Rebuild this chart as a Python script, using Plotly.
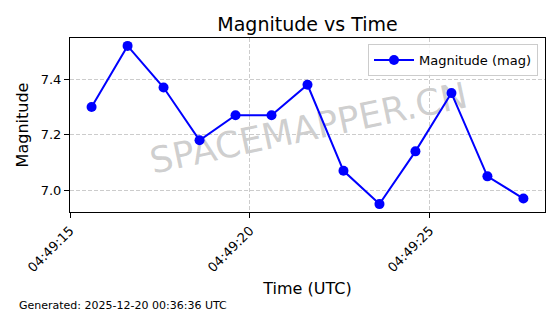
import plotly.graph_objects as go
import pandas as pd

times = ["2025-12-20 04:49:15.6", "2025-12-20 04:49:16.6", "2025-12-20 04:49:17.6",
         "2025-12-20 04:49:18.6", "2025-12-20 04:49:19.6", "2025-12-20 04:49:20.6",
         "2025-12-20 04:49:21.6", "2025-12-20 04:49:22.6", "2025-12-20 04:49:23.6",
         "2025-12-20 04:49:24.6", "2025-12-20 04:49:25.6", "2025-12-20 04:49:26.6",
         "2025-12-20 04:49:27.6"]
magnitudes = [7.30, 7.52, 7.37, 7.18, 7.27, 7.27, 7.38, 7.07, 6.95, 7.14, 7.35, 7.05, 6.97]
x_ticks = ["2025-12-20 04:49:15", "2025-12-20 04:49:20", "2025-12-20 04:49:25"]
x_tick_labels = ["04:49:15", "04:49:20", "04:49:25"]
y_ticks = [7.0, 7.2, 7.4]

W, H = 560, 314
L, R, T, B = 70, 15, 38, 102
pw, ph = W - L - R, H - T - B

font = "DejaVu Sans, sans-serif"
fig = go.Figure()
fig.add_trace(go.Scatter(
    x=pd.to_datetime(times), y=magnitudes, mode="lines+markers",
    name="Magnitude (mag)",
    line=dict(color="#0000ff", width=2),
    marker=dict(color="#0000ff", size=10),
))

grid = dict(showgrid=True, gridcolor="#cccccc", griddash="4px,2px", gridwidth=1)

fig.update_layout(
    width=W, height=H,
    margin=dict(l=L, r=R, t=T, b=B, pad=0),
    paper_bgcolor="white", plot_bgcolor="white",
    font=dict(family=font, color="black", size=13),
    title=dict(text="Magnitude vs Time", x=(L + pw / 2) / W, xanchor="center",
               y=1 - 24 / H, yanchor="middle", font=dict(size=19, family=font)),
    showlegend=True,
    legend=dict(x=(538 - L) / pw, y=1 - 6 / ph, xanchor="right", yanchor="top",
                bgcolor="rgba(255,255,255,0.8)", bordercolor="#cccccc", borderwidth=1,
                font=dict(size=13, family=font), itemwidth=40),
    xaxis=dict(
        type="date",
        range=[pd.Timestamp("2025-12-20 04:49:15.0"), pd.Timestamp("2025-12-20 04:49:28.2")],
        tickvals=pd.to_datetime(x_ticks), ticktext=x_tick_labels, tickangle=-45,
        ticks="outside", ticklen=5, tickcolor="black", tickwidth=1,
        showline=True, linecolor="black", linewidth=1, mirror=True,
        zeroline=False,
        title=dict(text="Time (UTC)", font=dict(size=16, family=font), standoff=8),
        tickfont=dict(size=13, family=font),
        **grid,
    ),
    yaxis=dict(
        range=[6.9215, 7.5485],
        tickvals=y_ticks, tickformat=".1f",
        ticks="outside", ticklen=5, tickcolor="black", tickwidth=1,
        showline=True, linecolor="black", linewidth=1, mirror=True,
        zeroline=False,
        title=dict(text="Magnitude", font=dict(size=16, family=font), standoff=8),
        tickfont=dict(size=13, family=font),
        **grid,
    ),
)

# watermark drawn beneath the data line via a shape label
cx, cy = (308 - L) / pw, 1 - (125 - T) / ph
fig.add_shape(
    type="rect", xref="paper", yref="paper",
    x0=cx - 0.01, x1=cx + 0.01, y0=cy - 0.01, y1=cy + 0.01,
    line=dict(width=0), fillcolor="rgba(0,0,0,0)", layer="between",
    label=dict(text="SPACEMAPPER.CN", textangle=-12, textposition="middle center",
               font=dict(size=36, family=font, color="rgba(128,128,128,0.38)")),
)
fig.add_annotation(
    text="Generated: 2025-12-20 00:36:36 UTC", xref="paper", yref="paper",
    x=(17 - L) / pw, y=-(305 - T - ph) / ph, xanchor="left", yanchor="middle",
    showarrow=False, font=dict(size=11, family=font, color="black"),
)

fig.write_html("out.html")
